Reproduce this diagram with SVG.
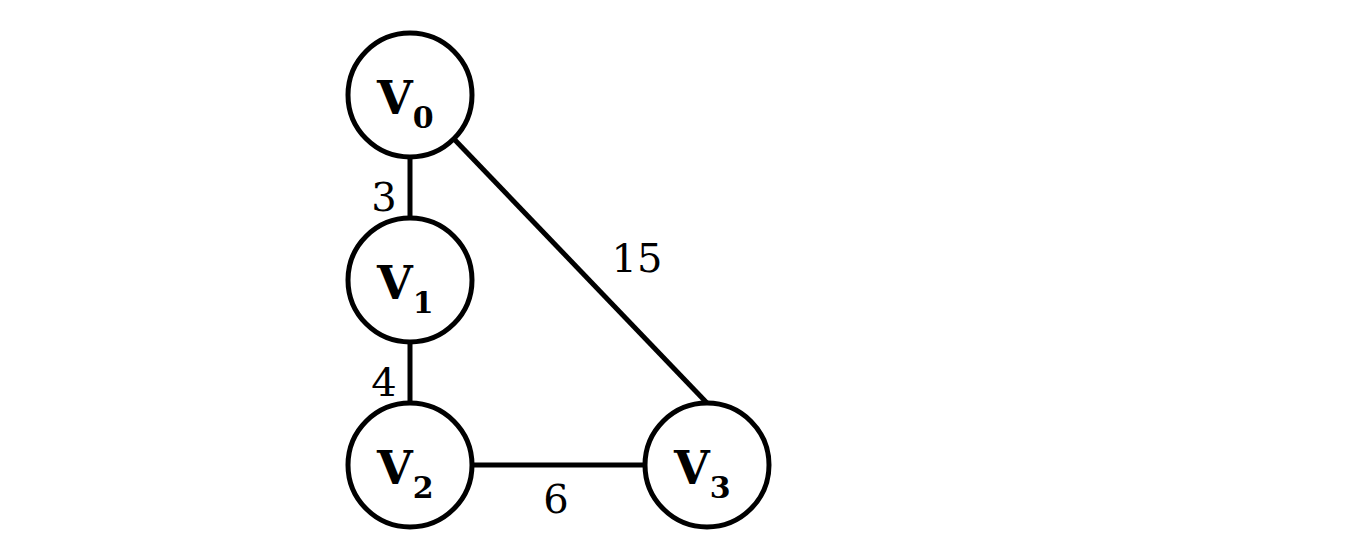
<svg xmlns="http://www.w3.org/2000/svg" width="1348" height="556" viewBox="0 0 1348 556">
<style>
.n{fill:#fff;stroke:#000;stroke-width:5}
.e{stroke:#000;stroke-width:5}
.t{font-family:"DejaVu Serif","Liberation Serif",serif;font-weight:bold;font-size:46px}
.s{font-size:30px}
.l{font-family:"DejaVu Serif","Liberation Serif",serif;font-size:40px;text-anchor:middle}
</style>
<rect width="1348" height="556" fill="#fff"/>
<g id="edges">
<line class="e" x1="410" y1="157" x2="410" y2="218"/>
<line class="e" x1="410" y1="342" x2="410" y2="403"/>
<line class="e" x1="472" y1="465" x2="645" y2="465"/>
<line class="e" x1="454" y1="139" x2="707" y2="403"/>
<text class="l" x="384" y="211">3</text>
<text class="l" x="384" y="396">4</text>
<text class="l" x="637" y="272">15</text>
<text class="l" x="556" y="513">6</text>
</g>
<g id="v0"><circle class="n" cx="410" cy="95" r="62"/><text class="t" x="377" y="114">V<tspan class="s" dy="14">0</tspan></text></g>
<g id="v1"><circle class="n" cx="410" cy="280" r="62"/><text class="t" x="377" y="299">V<tspan class="s" dy="14">1</tspan></text></g>
<g id="v2"><circle class="n" cx="410" cy="465" r="62"/><text class="t" x="377" y="484">V<tspan class="s" dy="14">2</tspan></text></g>
<g id="v3"><circle class="n" cx="707" cy="465" r="62"/><text class="t" x="674" y="484">V<tspan class="s" dy="14">3</tspan></text></g>
</svg>
